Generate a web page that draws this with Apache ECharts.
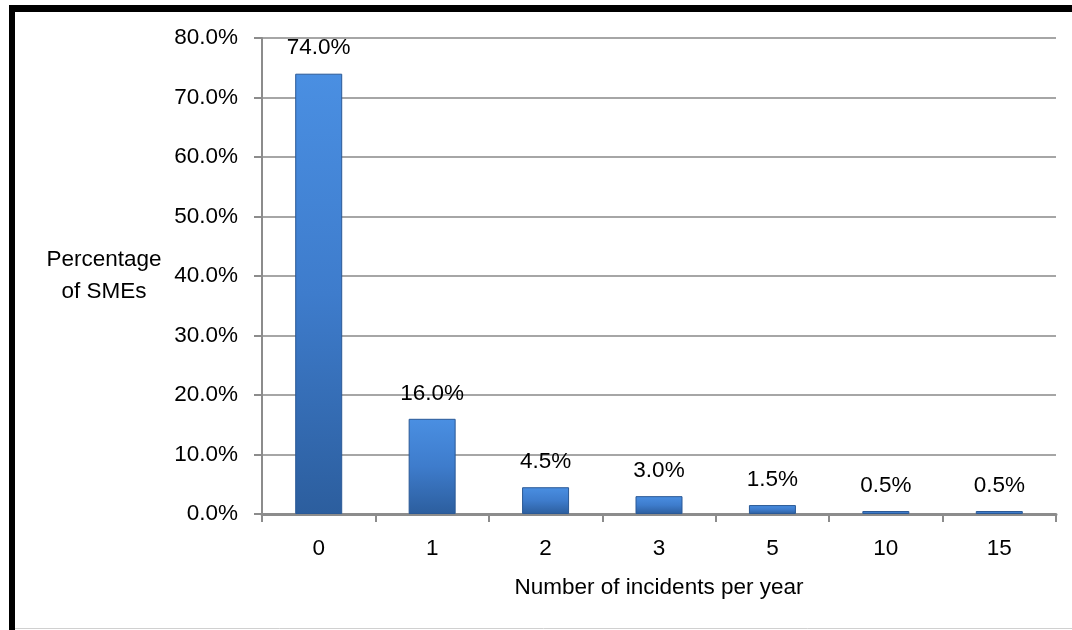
<!DOCTYPE html>
<html>
<head>
<meta charset="utf-8">
<script src="https://cdn.jsdelivr.net/npm/echarts@6/dist/echarts.min.js"></script>
<style>
  html, body { margin: 0; padding: 0; background: #fff; }
  #chart { width: 1072px; height: 630px; }
</style>
</head>
<body>
<div id="chart"></div>
<script>
// Incidents per year and share of SMEs reporting each count (in %)
const categories = ['0', '1', '2', '3', '5', '10', '15'];
const shareOfSMEs = [74.0, 16.0, 4.5, 3.0, 1.5, 0.5, 0.5];
const yTicks = { min: 0, max: 80, interval: 10 };

const FONT = '"Liberation Sans", Arial, sans-serif';
const FS = 22.5;
const chart = echarts.init(document.getElementById('chart'), null, { renderer: 'canvas' });

const barFill = new echarts.graphic.LinearGradient(0, 0, 0, 1, [
  { offset: 0, color: '#4a8fe2' },
  { offset: 0.5, color: '#3e7ccc' },
  { offset: 1, color: '#2c5e9e' }
]);

chart.setOption({
  animation: false,
  backgroundColor: '#ffffff',
  textStyle: { fontFamily: FONT },
  grid: { left: 262, right: 16, top: 38, bottom: 116, containLabel: false },
  xAxis: {
    type: 'category',
    data: categories,
    name: 'Number of incidents per year',
    nameLocation: 'middle',
    nameGap: 62,
    nameTextStyle: { fontFamily: FONT, fontSize: FS, color: '#000' },
    axisLine: { lineStyle: { color: '#8c8c8c', width: 3 } },
    axisTick: { show: true, length: 8, lineStyle: { color: '#8c8c8c', width: 2 } },
    axisLabel: { margin: 23, fontFamily: FONT, fontSize: FS, color: '#000' },
    splitLine: { show: false }
  },
  yAxis: {
    type: 'value',
    min: yTicks.min,
    max: yTicks.max,
    interval: yTicks.interval,
    name: 'Percentage\nof SMEs',
    nameLocation: 'middle',
    nameRotate: 0,
    nameGap: 158,
    nameTextStyle: { fontFamily: FONT, fontSize: FS, color: '#000', align: 'center', verticalAlign: 'middle', lineHeight: 32 },
    axisLine: { show: true, lineStyle: { color: '#8c8c8c', width: 2 } },
    axisTick: { show: true, length: 8, lineStyle: { color: '#8c8c8c', width: 2 } },
    axisLabel: {
      margin: 24,
      fontFamily: FONT,
      fontSize: FS,
      color: '#000',
      formatter: v => v.toFixed(1) + '%'
    },
    splitLine: { show: true, lineStyle: { color: '#a6a6a6', width: 2 } }
  },
  series: [{
    type: 'bar',
    data: shareOfSMEs,
    barWidth: 47,
    itemStyle: { color: barFill, borderColor: '#2a5996', borderWidth: 1 },
    label: {
      show: true,
      position: 'top',
      distance: 14,
      fontFamily: FONT,
      fontSize: FS,
      color: '#000',
      formatter: p => p.value.toFixed(1) + '%'
    }
  }],
  graphic: [
    // outer frame: heavy top and left rules, faint bottom rule
    { type: 'line', shape: { x1: 9, y1: 8.5, x2: 1072, y2: 8.5 }, style: { stroke: '#000', lineWidth: 7 }, z: 100 },
    { type: 'line', shape: { x1: 12, y1: 5, x2: 12, y2: 630 }, style: { stroke: '#000', lineWidth: 6 }, z: 100 },
    { type: 'line', shape: { x1: 15, y1: 628.5, x2: 1072, y2: 628.5 }, style: { stroke: '#d0d0d0', lineWidth: 1 }, z: 100 }
  ]
});
</script>
</body>
</html>
